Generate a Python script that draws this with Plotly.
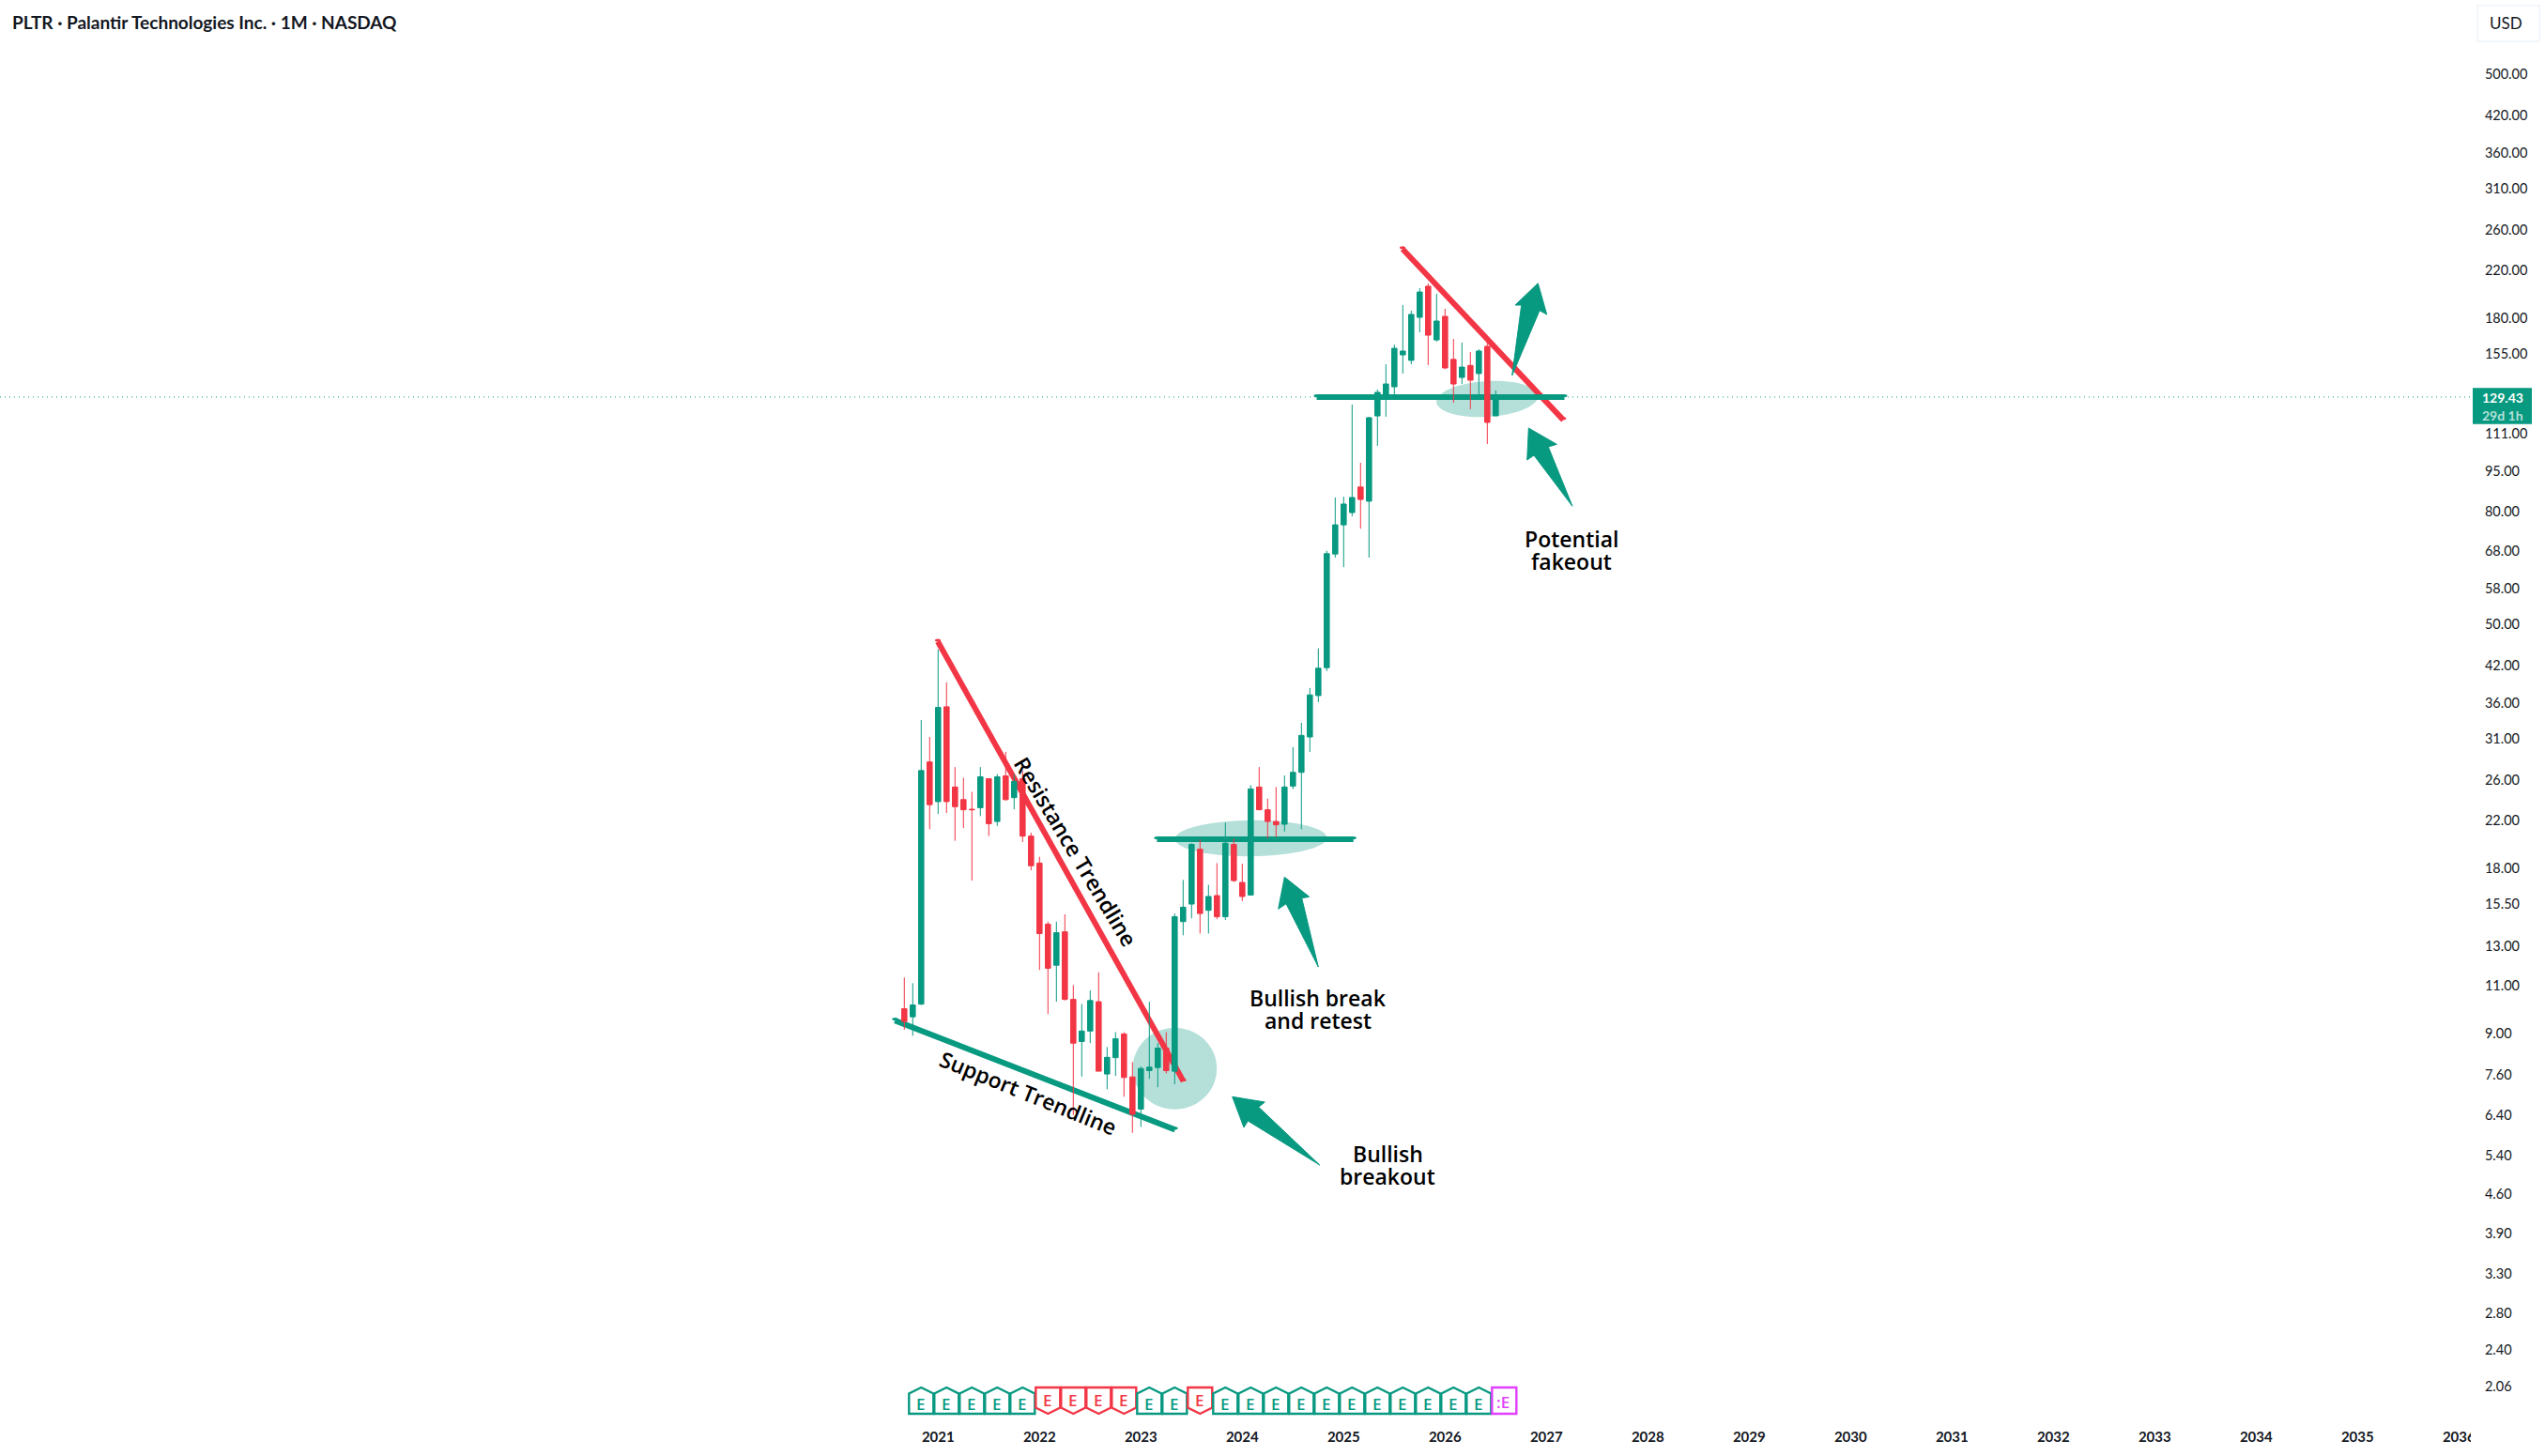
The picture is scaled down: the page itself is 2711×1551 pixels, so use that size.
import math
import plotly.graph_objects as go

# Monthly PLTR candles, Sep 2020 to Jul 2026
open_ = [10.0, 9.67, 10.2, 28.1, 23.8, 35.4, 25.3, 24.0, 23.05, 23.2, 26.2, 21.9, 26.5, 24.2, 26.2, 20.6,
         18.4, 14.25, 12.0, 13.8, 10.4, 8.72, 9.11, 10.3, 7.61, 8.15, 9.0, 7.52,
         6.57, 7.72, 7.82, 8.48, 7.7, 14.4, 15.5, 19.5, 15.1, 16.06, 14.7, 19.9,
         16.97, 16.1, 25.3, 23.0, 21.9, 21.65, 25.4, 26.9, 31.2, 37.1, 41.7, 67.1,
         75.8, 79.8, 88.8, 83.7, 119.6, 130.9, 135.1, 154.4, 150.9, 180.7, 205.8, 164.4,
         181.4, 151.5, 140.5, 147.7, 142.8, 160.0, 119.6]
high = [11.4, 11.13, 33.5, 31.2, 45.0, 39.2, 27.5, 26.3, 24.8, 27.5, 26.2, 26.7, 29.3, 26.7, 27.1, 20.9,
        18.9, 14.4, 14.4, 14.85, 11.04, 10.2, 10.8, 11.65, 8.52, 9.07, 9.07, 8.0,
        7.85, 10.3, 8.66, 9.07, 14.9, 17.15, 20.0, 20.3, 16.8, 18.4, 21.8, 20.4,
        18.35, 25.5, 27.5, 24.1, 25.3, 26.55, 29.9, 33.1, 38.3, 45.2, 68.0, 85.0,
        85.3, 125.4, 98.3, 119.2, 133.6, 148.5, 161.2, 190.2, 185.8, 204.2, 208.2, 199.4,
        187.3, 165.1, 162.5, 156.2, 158.1, 162.5, 133.0]
low = [9.16, 8.93, 10.15, 21.2, 22.6, 22.7, 20.2, 21.3, 17.1, 22.4, 20.6, 21.5, 23.9, 23.05, 20.1, 17.85,
       11.76, 9.78, 10.3, 10.35, 6.41, 7.53, 8.66, 7.7, 7.14, 7.55, 6.92, 5.95,
       6.1, 7.46, 7.2, 7.63, 7.29, 13.6, 14.6, 13.7, 13.7, 14.55, 14.5, 17.0,
       15.7, 16.06, 23.0, 20.4, 20.5, 21.0, 25.1, 21.2, 29.3, 36.1, 41.1, 66.1,
       63.5, 78.6, 74.6, 66.1, 105.5, 119.2, 130.6, 142.8, 148.5, 169.7, 147.9, 163.2,
       145.4, 126.4, 136.7, 123.0, 129.2, 106.3, 119.6]
close = [9.48, 10.16, 27.1, 23.5, 35.3, 23.8, 23.3, 23.0, 23.0, 26.4, 21.7, 26.4, 24.0, 25.9, 20.6, 18.2,
         13.7, 11.85, 13.75, 10.4, 8.66, 9.11, 10.35, 7.7, 8.16, 8.82, 7.5, 6.43,
         7.79, 7.83, 8.48, 7.72, 14.7, 15.3, 19.9, 14.9, 16.0, 14.7, 20.0, 17.1,
         16.0, 25.1, 23.0, 21.9, 21.6, 25.3, 26.9, 31.4, 37.2, 41.6, 67.2, 75.8,
         82.7, 85.0, 84.3, 118.7, 132.0, 136.7, 158.7, 156.9, 182.9, 200.9, 167.7, 177.9,
         146.2, 136.7, 146.7, 138.9, 156.9, 116.4, 129.43]

last_price = 129.43

# Earnings flags: month position and result
earnings_month = [2, 5, 8, 11, 14, 17, 20, 23, 26, 29, 32, 35, 38, 41, 44, 47, 50, 53, 56, 59, 62, 65, 68, 71]
earnings_result = ["beat"] * 5 + ["miss"] * 4 + ["beat"] * 2 + ["miss"] + ["beat"] * 11 + ["next"]

# Axis labels
year_months = [4 + 12 * n for n in range(16)]
year_labels = [str(2021 + n) for n in range(16)]
price_ticks = [2.06, 2.40, 2.80, 3.30, 3.90, 4.60, 5.40, 6.40, 7.60, 9.00, 11.00, 13.00, 15.50, 18.00,
               22.00, 26.00, 31.00, 36.00, 42.00, 50.00, 58.00, 68.00, 80.00, 95.00, 111.00,
               155.00, 180.00, 220.00, 260.00, 310.00, 360.00, 420.00, 500.00]

# Trendlines as (month, price) end points
resistance_main = [(3.97, 46.5), (33.04, 7.38)]
resistance_top = [(58.97, 240.5), (78.0, 117.6)]
support_main = [(-1.11, 9.52), (32.04, 6.03)]
retest_level = [(29.9, 20.33), (53.16, 20.33)]
fakeout_level = [(48.8, last_price), (78.13, last_price)]

GREEN = "#089981"
RED = "#f23645"
MAGENTA = "#e040fb"
INK = "#131722"
TINT = "rgba(8,153,129,0.3)"

WIDTH, HEIGHT = 2711, 1551
PANE_W, PANE_H = 2634, 1508


def px(x):
    return x / PANE_W


def py(y):
    return 1 - y / PANE_H


def poly(points, color):
    d = "M " + " L ".join(f"{px(x):.5f},{py(y):.5f}" for x, y in points) + " Z"
    return dict(type="path", path=d, xref="paper", yref="paper", fillcolor=color,
                line=dict(color=color, width=1), layer="above")


def ellipse(cx, cy, rx, ry, tilt):
    t = math.radians(tilt)
    pts = []
    for k in range(72):
        a = 2 * math.pi * k / 72
        ex, ey = rx * math.cos(a), ry * math.sin(a)
        pts.append((cx + ex * math.cos(t) - ey * math.sin(t), cy + ex * math.sin(t) + ey * math.cos(t)))
    d = "M " + " L ".join(f"{px(x):.5f},{py(y):.5f}" for x, y in pts) + " Z"
    return dict(type="path", path=d, xref="paper", yref="paper", fillcolor=TINT,
                line=dict(width=0), layer="below")


def trendline(ends, color, width=6):
    (x0, y0), (x1, y1) = ends
    out = [dict(type="line", xref="x", yref="y", x0=x0, y0=y0, x1=x1, y1=y1,
                line=dict(color=color, width=width), layer="below")]
    for x, y in ends:
        r = width / 2
        out.append(dict(type="circle", xref="x", yref="y", xsizemode="pixel", ysizemode="pixel",
                        xanchor=x, yanchor=y, x0=-r, x1=r, y0=-r, y1=r,
                        fillcolor=color, line=dict(width=0), layer="below"))
    return out


shapes = []
# Dotted last-price line across the pane
shapes.append(dict(type="line", xref="paper", yref="y", x0=0, x1=1, y0=last_price, y1=last_price,
                   line=dict(color=GREEN, width=1, dash="1px,4px"), layer="below"))
shapes += trendline(resistance_main, RED)
shapes += trendline(resistance_top, RED)
shapes.append(ellipse(1251.4, 1138.3, 44.8, 43.4, 0))
shapes.append(ellipse(1332.5, 893, 80.8, 19.2, -0.5))
shapes.append(ellipse(1584.2, 425, 54.2, 19, -3.5))
shapes += trendline(support_main, GREEN)
shapes += trendline(retest_level, GREEN)
shapes += trendline(fakeout_level, GREEN)

# Hand-drawn arrows
shapes.append(poly([(1312.7, 1168.3), (1347.3, 1174), (1340.7, 1179.3), (1405.7, 1241),
                    (1329.3, 1194), (1325, 1201)], GREEN))
shapes.append(poly([(1368.3, 934.3), (1394.7, 955.3), (1386.7, 956.7), (1404.3, 1030),
                    (1370, 962.7), (1361.7, 968.3)], GREEN))
shapes.append(poly([(1638.3, 301.7), (1647.7, 335), (1640, 330.7), (1610.7, 400),
                    (1620.7, 325), (1614, 325)], GREEN))
shapes.append(poly([(1628.3, 456), (1658.3, 473.3), (1649.3, 476), (1675, 539.3),
                    (1634, 485), (1626.7, 490)], GREEN))

# Earnings flags along the bottom of the pane
PIN_TOP, PIN_BOT = py(1478), py(1506)
PIN_SHOULDER_UP, PIN_SHOULDER_DN = py(1484.5), py(1499.5)
HALF = 13 / 9
annotations = []
for m, res in zip(earnings_month, earnings_result):
    l, r = m - HALF, m + HALF
    if res == "beat":
        d = f"M {l},{PIN_BOT} L {l},{PIN_SHOULDER_UP} L {m},{PIN_TOP} L {r},{PIN_SHOULDER_UP} L {r},{PIN_BOT} Z"
        col, label_text, ty = GREEN, "E", 1495
    elif res == "miss":
        d = f"M {l},{PIN_TOP} L {l},{PIN_SHOULDER_DN} L {m},{PIN_BOT} L {r},{PIN_SHOULDER_DN} L {r},{PIN_TOP} Z"
        col, label_text, ty = RED, "E", 1491
    else:
        d = f"M {l},{PIN_BOT} L {l},{PIN_TOP} L {r},{PIN_TOP} L {r},{PIN_BOT} Z"
        col, label_text, ty = MAGENTA, ":E", 1493
    shapes.append(dict(type="path", path=d, xref="x", yref="paper", fillcolor="white",
                       line=dict(color=col, width=2.4), layer="above"))
    annotations.append(dict(x=m - (0.2 if res == "next" else 0), y=py(ty), xref="x", yref="paper",
                            text=label_text, showarrow=False, xanchor="center", yanchor="middle",
                            font=dict(family="Open Sans", size=17, color=col, weight=600)))

# Price-axis furniture
shapes.append(dict(type="rect", xref="paper", yref="paper", x0=px(2634), x1=px(2697), y0=py(451.7), y1=py(413.3),
                   fillcolor=GREEN, line=dict(width=0), layer="above"))
shapes.append(dict(type="rect", xref="paper", yref="paper", x0=px(2639), x1=px(2705), y0=py(44), y1=py(6),
                   fillcolor="white", line=dict(color="#f0f3fa", width=1.5), layer="above"))
# The pane edge cuts off the last year label
shapes.append(dict(type="rect", xref="paper", yref="paper", x0=px(2632), x1=px(2650), y0=py(1545), y1=py(1515),
                   fillcolor="white", line=dict(width=0), layer="above"))


def label(text, x, y, size=23, angle=0, color="#000000", family="Open Sans", weight=600, anchor="center",
          height=None):
    a = dict(x=px(x), y=py(y), xref="paper", yref="paper", text=text, showarrow=False,
             textangle=angle, xanchor=anchor, yanchor="middle",
             font=dict(family=family, size=size, color=color, weight=weight))
    if height:
        a["height"] = height
    annotations.append(a)


label("Bullish break", 1404, 1063, height=22)
label("and retest", 1404, 1087, height=22)
label("Bullish", 1478, 1229, height=22)
label("breakout", 1478, 1253, height=22)
label("Potential", 1674, 574, height=22)
label("fakeout", 1674, 598, height=22)
label("Resistance Trendline", 1146, 907, angle=59)
label("Support Trendline", 1095, 1164, angle=22)
label("PLTR · Palantir Technologies Inc. · 1M · NASDAQ", 11, 24, size=19, color=INK, family="Lato",
      weight=700, anchor="left")
label("USD", 2669, 25, size=17, color=INK, family="Lato", weight=400)
label(f"{last_price:.2f}", 2690, 423.5, size=14, color="#ffffff", family="Lato", weight=700, anchor="right")
label("29d 1h", 2690, 442, size=14, color="#b5e0d9", family="Lato", weight=700, anchor="right")

fig = go.Figure(go.Candlestick(
    x=list(range(len(close))), open=open_, high=high, low=low, close=close,
    increasing=dict(line=dict(color=GREEN, width=1), fillcolor=GREEN),
    decreasing=dict(line=dict(color=RED, width=1), fillcolor=RED),
    whiskerwidth=0, hoverinfo="skip", showlegend=False,
))

fig.update_layout(
    width=WIDTH, height=HEIGHT,
    margin=dict(l=0, r=WIDTH - PANE_W, t=0, b=HEIGHT - PANE_H, autoexpand=False),
    paper_bgcolor="white", plot_bgcolor="white",
    boxmode="overlay", boxgap=0.12,
    showlegend=False, shapes=shapes, annotations=annotations,
    xaxis=dict(
        range=[-107.03, 185.63], rangeslider=dict(visible=False),
        tickmode="array", tickvals=year_months, ticktext=year_labels,
        showgrid=False, zeroline=False, showline=False,
        ticks="outside", ticklen=9, tickcolor="white",
        tickfont=dict(family="Lato", size=15, color=INK, weight=700),
    ),
    yaxis=dict(
        type="log", side="right", range=[0.2604, 2.83378],
        tickmode="array", tickvals=price_ticks, ticktext=[f"{v:.2f}" for v in price_ticks],
        showgrid=False, zeroline=False, showline=False,
        ticks="outside", ticklen=9, tickcolor="white",
        tickfont=dict(family="Lato", size=14.5, color=INK),
    ),
)

fig.write_html("out.html", config=dict(displayModeBar=False))
